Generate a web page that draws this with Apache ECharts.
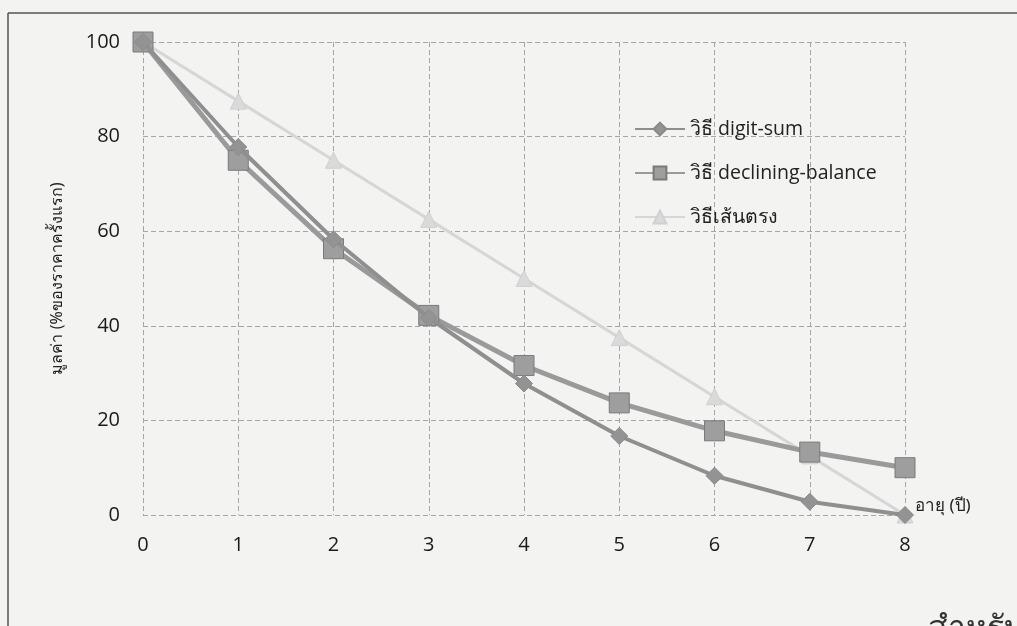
<!DOCTYPE html>
<html>
<head>
<meta charset="utf-8">
<script src="https://cdn.jsdelivr.net/npm/echarts@6/dist/echarts.min.js"></script>
<style>
html,body{margin:0;padding:0;background:#f3f3f2;}
#c{width:1017px;height:626px;}
</style>
</head>
<body>
<div id="c"></div>
<script>
const years = [0, 1, 2, 3, 4, 5, 6, 7, 8];
const digitSum = [100, 77.8, 58.3, 41.7, 27.8, 16.7, 8.3, 2.8, 0];
const decliningBalance = [100, 75, 56.3, 42.2, 31.6, 23.7, 17.8, 13.3, 10];
const straightLine = [100, 87.5, 75, 62.5, 50, 37.5, 25, 12.5, 0];
const seriesNames = ['วิธี digit-sum', 'วิธี declining-balance', 'วิธีเส้นตรง'];
const yTicks = [0, 20, 40, 60, 80, 100];

const pair = arr => years.map((x, i) => [x, arr[i]]);
const chart = echarts.init(document.getElementById('c'));
const font = '"Open Sans", "Noto Sans", sans-serif';
chart.setOption({
  backgroundColor: '#f3f3f2',
  animation: false,
  textStyle: {fontFamily: font},
  grid: {left: 143, right: 112, top: 42, bottom: 111, containLabel: false},
  legend: {
    orient: 'vertical', left: 629, top: 111, itemWidth: 50, itemHeight: 16, itemGap: 18,
    textStyle: {fontSize: 19.5, color: '#222', fontFamily: font, lineHeight: 26},
    data: seriesNames
  },
  xAxis: {
    type: 'value', min: 0, max: 8, interval: 1,
    name: 'อายุ (ปี)', nameLocation: 'end', nameGap: 10,
    nameTextStyle: {fontSize: 17, color: '#222', verticalAlign: 'bottom', align: 'left', padding: [0, 0, 0, 0], fontFamily: '"Noto Sans", sans-serif'},
    axisLine: {show: false}, axisTick: {show: false},
    axisLabel: {fontSize: 20, color: '#1a1a1a', margin: 20},
    splitLine: {show: true, lineStyle: {color: '#a5a5a5', type: [5, 3], width: 1}}
  },
  yAxis: {
    type: 'value', min: 0, max: 100, interval: 20,
    name: 'มูลค่า (%ของราคาครั้งแรก)', nameLocation: 'middle', nameGap: 78, nameRotate: 90,
    nameTextStyle: {fontSize: 16, color: '#222', fontFamily: '"Noto Sans", sans-serif'},
    axisLine: {show: false}, axisTick: {show: false},
    axisLabel: {fontSize: 20, color: '#1a1a1a', margin: 23,
      formatter: v => yTicks.includes(v) ? String(v) : ''},
    splitLine: {show: true, lineStyle: {color: '#a5a5a5', type: [5, 3], width: 1}}
  },
  graphic: [
    {type: 'line', shape: {x1: 8, y1: 13, x2: 1017, y2: 13}, style: {stroke: '#555', lineWidth: 1.5}},
    {type: 'line', shape: {x1: 8, y1: 13, x2: 8, y2: 626}, style: {stroke: '#555', lineWidth: 1.5}},
    {type: 'text', left: 928, top: 613, style: {text: 'สำหรับ', fontSize: 32, fill: '#333', fontFamily: '"Noto Sans", sans-serif'}}
  ],
  series: [
    {
      name: seriesNames[2], type: 'line', data: pair(straightLine), z: 1,
      symbol: 'triangle', symbolSize: 16,
      lineStyle: {color: '#d6d6d6', width: 3},
      itemStyle: {color: '#dadada', borderColor: '#d0d0d0', borderWidth: 1}
    },
    {
      name: seriesNames[1], type: 'line', data: pair(decliningBalance), z: 2,
      symbol: 'rect', symbolSize: 20,
      lineStyle: {color: '#9a9a9a', width: 5},
      itemStyle: {color: '#9e9e9e', borderColor: '#7a7a7a', borderWidth: 1}
    },
    {
      name: seriesNames[0], type: 'line', data: pair(digitSum), z: 3,
      symbol: 'diamond', symbolSize: 17,
      lineStyle: {color: '#8f8f8f', width: 4},
      itemStyle: {color: '#939393', borderColor: '#8a8a8a', borderWidth: 1}
    }
  ]
});
</script>
</body>
</html>
